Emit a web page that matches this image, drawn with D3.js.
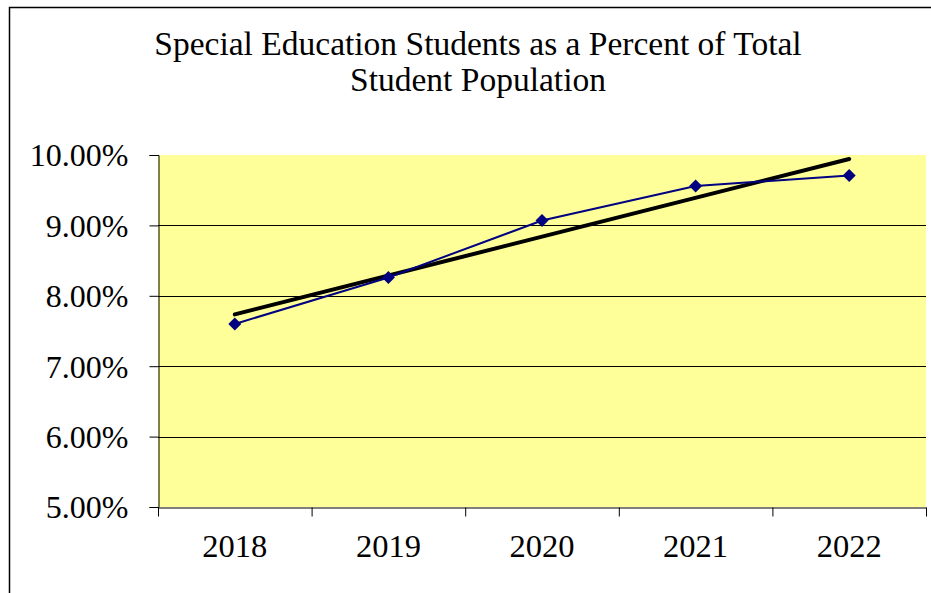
<!DOCTYPE html>
<html>
<head>
<meta charset="utf-8">
<script src="https://cdn.jsdelivr.net/npm/d3@7"></script>
<style>
  html, body { margin: 0; padding: 0; background: #fff; }
  svg { display: block; }
</style>
</head>
<body>
<svg id="chart" width="931" height="593"></svg>
<script>
// Share of students in special education, by school year
const years = ["2018", "2019", "2020", "2021", "2022"];
const percents = [0.0760, 0.0826, 0.0907, 0.0956, 0.0971];
const yTicks = [0.05, 0.06, 0.07, 0.08, 0.09, 0.10];
const titleLines = ["Special Education Students as a Percent of Total", "Student Population"];

const W = 931, H = 593;
const plot = { left: 158, right: 926, top: 155, bottom: 507 };
const FONT = '"Liberation Serif"';

const svg = d3.select("#chart");

// chart frame
svg.append("rect")
  .attr("x", 9.5).attr("y", 7.5)
  .attr("width", W + 10).attr("height", H + 10)
  .attr("fill", "#fff").attr("stroke", "#000").attr("stroke-width", 1.5);

const x = d3.scaleBand().domain(years).range([plot.left, plot.right]).padding(0);
const y = d3.scaleLinear().domain([0.05, 0.10]).range([plot.bottom, plot.top]);

// plot background
svg.append("rect")
  .attr("x", plot.left).attr("y", plot.top)
  .attr("width", plot.right - plot.left).attr("height", plot.bottom - plot.top)
  .attr("fill", "#FFFF99");

// horizontal gridlines
svg.append("g")
  .selectAll("line")
  .data(yTicks.filter(t => t > 0.05 && t < 0.10))
  .join("line")
  .attr("x1", plot.left).attr("x2", plot.right)
  .attr("y1", d => Math.round(y(d)) + 0.5).attr("y2", d => Math.round(y(d)) + 0.5)
  .attr("stroke", "#000").attr("stroke-width", 1);

// y axis
const yAxis = svg.append("g")
  .attr("transform", `translate(${plot.left + 0.5},0)`)
  .call(d3.axisLeft(y).tickValues(yTicks).tickFormat(d3.format(".2%")).tickSize(9).tickPadding(21));
yAxis.select(".domain").attr("stroke", "#000");
yAxis.selectAll(".tick line").attr("stroke", "#000");
yAxis.selectAll("text")
  .style("font-family", FONT)
  .style("font-size", "32px")
  .attr("fill", "#000")
  .attr("dy", "0.34em");

// x axis: ticks at category boundaries, labels centred in each category
const xEdge = d3.scaleLinear().domain([0, years.length]).range([plot.left, plot.right]);
const xAxis = svg.append("g")
  .attr("transform", `translate(0,${plot.bottom + 0.5})`)
  .call(d3.axisBottom(xEdge).tickValues(d3.range(years.length + 1)).tickFormat("").tickSize(9).tickSizeOuter(0));
xAxis.select(".domain").attr("stroke", "#000");
xAxis.selectAll(".tick line").attr("stroke", "#000");

svg.append("g")
  .selectAll("text")
  .data(years)
  .join("text")
  .attr("x", d => x(d) + x.bandwidth() / 2)
  .attr("y", 557)
  .attr("text-anchor", "middle")
  .style("font-family", FONT)
  .style("font-size", "32.5px")
  .text(d => d);

// linear trendline (least squares over category index)
const n = percents.length;
const idx = d3.range(n);
const mx = d3.mean(idx), my = d3.mean(percents);
const slope = d3.sum(idx, i => (i - mx) * (percents[i] - my)) / d3.sum(idx, i => (i - mx) ** 2);
const intercept = my - slope * mx;
const cx = i => x(years[i]) + x.bandwidth() / 2;

svg.append("line")
  .attr("x1", cx(0)).attr("y1", y(intercept))
  .attr("x2", cx(n - 1)).attr("y2", y(intercept + slope * (n - 1)))
  .attr("stroke", "#000").attr("stroke-width", 4).attr("stroke-linecap", "round");

// data series
const line = d3.line().x((d, i) => cx(i)).y(d => y(d));
svg.append("path")
  .datum(percents)
  .attr("d", line)
  .attr("fill", "none").attr("stroke", "#000080").attr("stroke-width", 2);

svg.append("g")
  .selectAll("path")
  .data(percents)
  .join("path")
  .attr("transform", (d, i) => `translate(${cx(i)},${y(d)})`)
  .attr("d", "M0,-6.5L6.5,0L0,6.5L-6.5,0Z")
  .attr("fill", "#000080");

// title
svg.append("g")
  .selectAll("text")
  .data(titleLines)
  .join("text")
  .attr("x", 478)
  .attr("y", (d, i) => 55 + i * 36)
  .attr("text-anchor", "middle")
  .style("font-family", FONT)
  .style("font-size", "33.5px")
  .text(d => d);
</script>
</body>
</html>
